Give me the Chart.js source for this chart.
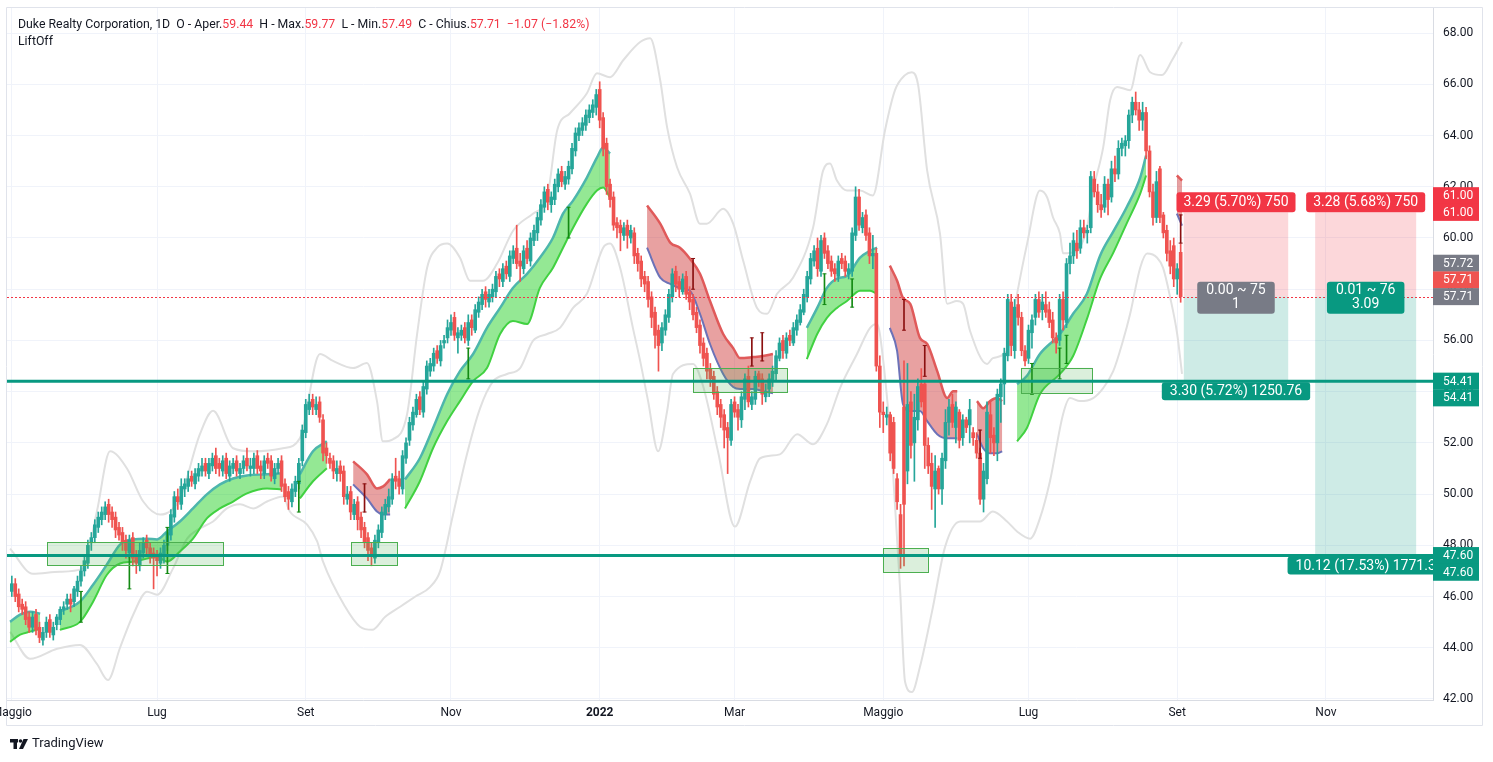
<!DOCTYPE html>
<html>
<head>
<meta charset="utf-8">
<title>Duke Realty Corporation, 1D</title>
<script src="https://cdn.jsdelivr.net/npm/chart.js@4.4.1/dist/chart.umd.min.js"></script>
<style>
  html, body { margin: 0; padding: 0; background: #ffffff; }
  #wrap { width: 1493px; height: 762px; position: relative; }
</style>
</head>
<body>
<div id="wrap"><canvas id="chart" width="1493" height="762"></canvas></div>
<script>
// daily bars, index 0 = 3 May 2021
const opens = [
  46.2,46.5,46.1,45.7,45.6,45.2,44.8,45.3,44.8,44.3, 44.6,45.1,44.5,44.9,45.1,45.5,45.7,45.9,45.8,46.2,
  46.6,47.0,47.3,48.1,48.3,48.7,49.0,49.2,49.6,49.3, 49.1,48.7,48.5,48.2,47.7,48.3,47.6,47.2,47.7,48.2,
  47.9,47.7,47.6,47.3,47.6,48.0,48.4,49.1,49.9,49.6, 50.2,50.3,50.7,50.4,50.7,50.9,51.2,50.8,51.1,51.5,
  51.2,50.9,51.4,50.7,51.0,51.3,50.8,51.0,51.4,51.0, 51.0,51.5,51.1,50.8,51.4,51.3,50.6,51.0,51.3,50.4,
  50.1,49.7,50.1,50.4,51.3,52.4,53.3,53.7,53.3,53.6, 52.9,51.8,51.4,51.3,50.8,51.1,50.9,49.8,50.1,49.2,
  49.7,49.1,48.7,48.3,47.9,47.5,48.1,48.5,49.2,49.5, 49.8,50.7,50.6,50.2,51.4,52.1,52.7,53.1,53.8,53.2,
  54.1,54.8,55.0,55.6,55.2,55.9,56.1,56.4,56.9,56.1, 56.2,56.5,56.0,56.8,56.4,57.1,57.4,57.9,57.5,57.7,
  57.9,58.6,58.3,58.9,58.5,59.2,59.6,59.1,58.8,59.6, 59.1,59.9,60.2,60.7,61.2,61.9,61.3,61.5,62.0,62.6,
  62.1,62.3,62.7,63.4,64.0,64.2,64.4,64.7,64.9,65.1, 65.8,64.7,63.7,62.1,61.6,60.6,60.5,60.1,60.5,60.0,
  60.2,59.4,59.1,58.5,58.3,57.7,57.1,56.4,55.9,56.4, 56.9,57.7,58.7,58.3,57.9,58.5,57.9,57.6,57.1,56.6,
  55.9,55.5,54.9,54.6,54.0,53.5,53.1,52.6,52.1,53.6, 53.3,52.9,53.7,54.6,53.5,53.7,54.7,54.5,53.8,54.1,
  54.4,54.7,55.3,56.0,55.5,56.2,55.9,56.4,56.7,57.1, 57.7,58.4,59.1,59.6,58.7,60.0,59.5,59.1,58.8,58.5,
  59.2,59.1,58.6,58.7,60.1,61.6,60.4,60.9,60.2,59.3, 59.4,55.0,53.2,53.0,53.1,52.8,50.6,49.2,53.4,50.9,
  53.6,52.0,52.9,54.3,54.3,51.9,51.2,50.2,51.0,50.2, 51.3,52.8,53.5,52.6,53.2,52.2,52.9,52.7,52.4,52.1,
  51.6,49.8,50.6,53.1,52.3,52.0,53.8,54.3,55.4,57.5, 55.6,57.4,56.9,55.6,55.3,56.3,56.9,57.6,57.2,57.4,
  57.2,56.8,56.1,56.0,57.6,56.7,59.0,59.3,59.8,59.6, 60.4,60.2,60.4,62.3,61.8,61.3,61.2,62.1,61.6,62.7,
  62.5,63.5,63.6,63.8,64.8,65.3,65.0,64.6,64.9,63.4, 61.8,60.8,62.7,60.9,60.3,59.5,59.7,58.4,59.44
];
const highs = [
  46.8,46.7,46.3,45.9,45.8,45.4,45.4,45.5,45.0,44.8, 45.2,45.3,45.0,45.3,45.6,45.8,46.1,46.1,46.4,46.8,
  47.2,47.6,48.2,48.5,49.0,49.3,49.5,49.7,49.8,49.5, 49.3,48.9,48.7,48.4,48.4,48.5,47.8,48.1,48.3,48.4,
  48.1,47.9,47.8,47.9,48.2,48.7,49.4,50.1,50.2,50.6, 50.6,50.9,50.9,51.0,51.2,51.4,51.4,51.4,51.6,51.8,
  51.4,51.5,51.6,51.3,51.4,51.5,51.2,51.5,51.8,51.4, 51.6,51.7,51.3,51.5,51.6,51.5,51.2,51.4,51.5,50.6,
  50.3,50.4,50.7,51.4,52.7,53.7,53.9,53.9,53.8,53.8, 53.1,52.0,51.6,51.5,51.3,51.3,51.1,50.3,50.3,49.8,
  49.9,49.3,48.9,48.5,48.1,48.4,48.8,49.5,49.8,50.2, 50.8,51.4,50.9,51.7,52.2,53.0,53.4,53.9,54.0,54.4,
  55.2,55.3,55.7,55.8,56.0,56.2,56.8,57.0,57.1,56.5, 56.6,56.7,57.0,57.0,57.4,57.7,58.0,58.1,58.0,58.2,
  58.7,58.8,59.0,59.1,59.5,59.7,60.5,59.4,59.7,59.9, 60.2,60.5,61.0,61.5,62.0,62.1,61.8,62.3,62.7,62.8,
  62.6,63.0,63.7,64.3,64.5,64.7,65.0,65.2,65.4,65.8, 66.1,64.9,63.9,62.3,61.8,60.8,60.7,60.6,60.7,60.5,
  60.4,59.6,59.3,58.7,58.5,57.9,57.3,56.6,56.7,57.2, 58.0,58.8,58.9,58.5,58.6,58.7,58.1,57.8,57.3,56.8,
  56.1,55.7,55.1,54.8,54.2,53.7,53.3,52.8,53.7,53.8, 53.5,54.0,54.7,55.0,54.0,54.8,54.8,54.7,54.3,54.7,
  55.0,55.6,56.1,56.2,56.3,56.4,56.7,57.0,57.4,58.0, 58.7,59.4,59.7,60.0,60.1,60.2,59.7,59.3,59.0,59.3,
  59.4,59.3,59.0,60.4,62.0,61.9,61.0,61.1,60.4,60.1, 59.6,55.4,53.6,53.4,53.2,53.0,50.8,49.6,55.2,55.1,
  54.0,53.9,54.5,54.9,54.4,52.2,51.6,51.5,51.1,51.6, 53.3,53.7,53.9,53.6,53.3,53.1,53.0,53.7,52.6,52.4,
  51.8,51.2,53.6,53.6,52.6,54.1,54.5,55.7,57.8,57.8, 57.6,57.8,57.1,55.8,56.6,57.0,57.8,57.9,57.8,57.9,
  57.5,57.1,56.3,57.8,57.9,59.2,59.8,60.2,60.3,60.7, 60.7,60.5,62.6,62.6,62.1,61.7,62.4,62.3,63.0,63.2,
  63.8,63.9,64.0,65.0,65.5,65.7,65.3,65.3,65.1,63.6, 62.1,62.6,62.8,61.0,60.5,59.9,60.0,59.0,59.77
];
const lows = [
  46.0,45.8,45.4,45.3,44.9,44.6,44.6,44.5,44.2,44.1, 44.4,44.4,44.3,44.7,44.9,45.3,45.5,45.4,45.6,46.0,
  46.4,46.8,47.1,47.8,48.1,48.5,48.8,49.0,48.9,48.7, 48.3,48.2,47.8,47.5,47.5,47.2,46.9,47.0,47.5,47.6,
  47.3,46.3,46.8,47.1,47.3,47.8,48.2,48.9,49.4,49.4, 49.9,50.1,50.3,50.2,50.5,50.7,50.7,50.6,50.9,50.8,
  50.7,50.7,50.6,50.5,50.8,50.7,50.6,50.8,50.9,50.7, 50.8,50.8,50.6,50.6,51.0,50.5,50.4,50.8,50.1,49.7,
  49.4,49.5,49.9,50.2,51.1,52.2,53.1,53.1,53.1,52.8, 51.3,51.2,51.0,50.6,50.5,50.5,49.6,49.6,49.0,49.0,
  48.6,48.3,47.9,47.4,47.2,47.3,47.9,48.3,49.0,49.3, 49.6,50.2,50.0,50.0,51.2,51.9,52.5,53.0,53.1,53.0,
  53.9,54.6,54.8,55.1,55.0,55.7,55.9,56.2,56.0,55.5, 56.0,55.9,55.8,56.2,56.3,56.9,57.2,57.3,57.3,57.5,
  57.7,58.1,58.1,58.4,58.3,59.0,58.8,58.3,58.6,59.0, 58.9,59.7,59.9,60.5,61.0,61.1,61.0,61.3,61.8,62.0,
  61.9,62.1,62.5,63.2,63.8,64.0,64.2,64.5,64.7,64.8, 64.3,63.2,61.7,61.2,60.3,60.0,59.5,59.9,59.6,59.8,
  59.0,58.7,58.1,57.9,57.3,56.5,55.7,54.8,55.6,56.2, 56.7,57.5,57.9,57.7,57.8,57.6,57.2,56.8,56.3,55.5,
  55.0,54.5,54.2,53.7,53.1,52.6,51.8,50.8,51.9,53.0, 52.5,52.6,53.3,53.4,53.3,53.5,54.2,53.5,53.6,53.8,
  54.2,54.4,55.2,55.3,55.3,55.8,55.8,56.2,56.6,57.0, 57.5,58.2,58.9,58.5,58.5,59.2,58.8,58.5,58.3,58.3,
  58.8,58.5,58.4,58.5,59.9,60.3,60.2,59.9,59.0,58.8, 54.8,52.6,52.4,52.7,51.3,50.8,49.4,47.1,47.2,50.4,
  51.4,50.5,52.5,53.4,51.0,50.8,49.4,48.7,50.0,49.6, 51.0,52.3,52.6,52.0,51.8,51.9,52.4,52.0,51.9,51.4,
  49.6,49.3,50.4,51.6,51.5,51.3,52.8,53.5,55.2,55.4, 55.3,56.6,55.4,55.0,55.1,55.7,56.6,56.9,56.8,56.9,
  56.5,55.9,55.5,55.8,56.4,56.5,58.6,59.0,59.2,59.4, 60.0,59.8,60.2,61.6,61.0,60.8,61.0,60.9,61.4,62.2,
  62.3,63.2,63.2,63.5,64.5,64.8,64.2,64.2,63.1,61.6, 60.5,60.6,60.6,60.0,59.1,58.6,58.1,57.8,57.49
];
const closes = [
  46.5,46.0,45.6,45.5,45.1,44.8,45.2,44.7,44.4,44.6, 45.0,44.6,44.8,45.2,45.5,45.6,45.9,45.7,46.3,46.6,
  47.0,47.4,48.0,48.3,48.8,49.1,49.3,49.5,49.2,49.0, 48.6,48.4,48.1,47.8,48.2,47.5,47.3,47.8,48.1,47.9,
  47.6,47.5,47.4,47.7,48.0,48.5,49.2,49.9,49.7,50.3, 50.4,50.6,50.5,50.8,51.0,51.1,50.9,51.2,51.4,51.0,
  51.0,51.3,50.8,51.1,51.2,50.9,51.0,51.3,51.1,51.1, 51.4,51.0,50.9,51.3,51.2,50.7,51.0,51.2,50.3,49.9,
  49.8,50.2,50.5,51.2,52.5,53.5,53.6,53.4,53.5,53.0, 51.6,51.5,51.2,50.9,51.0,50.8,49.9,50.0,49.3,49.6,
  49.0,48.6,48.1,47.8,47.6,48.2,48.6,49.3,49.6,49.9, 50.6,50.5,50.3,51.5,52.0,52.8,53.2,53.7,53.3,54.2,
  55.0,55.1,55.5,55.3,55.8,56.0,56.5,56.7,56.2,56.3, 56.4,56.1,56.7,56.5,57.2,57.5,57.8,57.6,57.8,58.0,
  58.5,58.4,58.8,58.6,59.3,59.5,59.0,58.9,59.5,59.2, 60.0,60.3,60.8,61.3,61.8,61.4,61.6,62.1,62.5,62.2,
  62.4,62.8,63.5,64.1,64.3,64.5,64.8,65.0,65.2,65.6, 64.6,63.5,62.0,61.5,60.5,60.4,60.2,60.4,60.1,60.3,
  59.3,59.0,58.4,58.2,57.6,56.9,56.2,55.8,56.5,57.0, 57.8,58.6,58.2,58.0,58.4,57.8,57.5,57.0,56.5,55.8,
  55.3,54.8,54.5,53.9,53.4,53.0,52.5,52.2,53.5,53.2, 53.0,53.8,54.5,53.6,53.8,54.6,54.4,53.9,54.0,54.5,
  54.8,55.4,55.9,55.6,56.1,56.0,56.5,56.8,57.2,57.8, 58.5,59.2,59.5,58.8,59.9,59.4,59.0,58.7,58.6,59.1,
  59.0,58.7,58.8,60.2,61.6,60.5,60.8,60.1,59.3,59.4, 55.0,53.2,53.1,53.1,51.6,51.0,49.7,47.6,49.6,53.5,
  51.9,53.0,54.2,53.6,51.9,51.1,50.3,50.9,50.2,51.4, 52.8,53.4,52.8,53.4,52.1,52.9,52.6,53.3,52.2,51.6,
  49.8,50.9,53.2,52.2,52.0,53.9,54.3,55.5,57.6,55.8, 57.3,56.9,55.6,55.2,56.4,56.8,57.6,57.1,57.5,57.1,
  56.7,56.1,55.9,57.6,56.8,59.0,59.3,59.9,59.5,60.4, 60.2,60.3,62.4,61.8,61.3,61.1,62.1,61.5,62.7,62.5,
  63.5,63.7,63.8,64.8,65.3,65.0,64.6,64.9,63.4,61.8, 60.8,62.2,60.8,60.2,59.4,58.9,58.4,58.8,57.71
];

// time axis (bar index) and price axis
const monthTicks  = [0, 42, 85, 127, 170, 209, 252, 294, 337, 380];
const monthLabels = ['Maggio', 'Lug', 'Set', 'Nov', '2022', 'Mar', 'Maggio', 'Lug', 'Set', 'Nov'];
const priceTicks  = [42, 44, 46, 48, 50, 52, 54, 56, 58, 60, 62, 64, 66, 68];

// bollinger-style envelope [barIndex, price]
const bandUpper = [
  [-0.5,47.87],[6.1,46.89],[13.9,46.97],[20.6,47.09],[24.6,49.32],[28.4,51.67],[33.3,51.00],[38.0,49.71],
  [42.9,49.20],[48.6,49.83],[54.4,52.34],[58.2,53.25],[64.0,51.79],[69.8,51.67],[78.4,51.79],[83.3,52.18],
  [89.1,55.47],[92.9,55.20],[98.7,54.92],[102.7,55.12],[105.6,53.63],[107.3,52.06],[110.2,52.14],[114.3,53.12],
  [117.2,56.25],[120.1,58.84],[123.0,59.62],[125.9,59.78],[129.6,59.23],[132.5,58.33],[136.3,58.33],[140.3,58.99],
  [145.0,60.29],[150.7,60.95],[154.8,61.58],[157.7,64.20],[161.4,64.87],[166.3,65.65],[169.2,66.43],[173.0,66.28],
  [176.8,66.94],[181.7,67.65],[184.6,67.80],[187.5,66.16],[189.5,64.32],[192.4,62.75],[196.1,61.73],[199.0,60.56],
  [201.0,60.56],[205.7,61.14],[208.6,60.56],[211.5,59.11],[215.5,57.27],[218.4,57.04],[221.3,57.82],[225.9,58.45],
  [231.7,60.40],[234.6,62.63],[236.6,62.91],[238.6,62.24],[241.5,61.85],[245.3,61.85],[249.0,61.66],[252.5,64.20],
  [255.4,65.77],[258.3,66.36],[260.3,66.47],[262.1,65.96],[264.7,62.63],[268.4,60.17],[270.5,57.43],[273.3,57.54],
  [275.1,57.43],[277.1,56.37],[282.0,55.08],[283.7,55.31],[287.8,55.59],[290.7,57.82],[293.6,59.78],[297.3,61.85],
  [299.4,61.58],[301.1,60.80],[303.1,60.17],[304.0,59.40],[308.0,59.50],[310.9,60.40],[312.7,61.85],[315.6,63.54],
  [317.6,65.38],[319.6,65.90],[323.4,65.77],[326.3,67.14],[329.2,66.47],[332.6,66.36],[335.5,66.94],[338.4,67.65]
];
const bandLower = [
  [-0.5,44.62],[5.3,43.57],[13.1,43.96],[19.7,44.11],[24.6,43.37],[27.8,42.74],[31.3,44.00],[35.1,45.29],
  [39.1,46.19],[42.0,46.07],[46.6,47.09],[50.7,48.26],[54.4,48.66],[58.2,48.93],[62.2,49.44],[66.0,49.60],
  [69.8,49.44],[73.8,49.71],[78.4,49.91],[80.4,49.32],[85.4,48.81],[88.3,48.15],[90.0,47.36],[96.4,45.60],
  [100.7,44.82],[104.2,44.70],[108.0,45.21],[112.3,45.60],[116.6,45.99],[121.0,46.38],[123.8,46.97],[127.6,49.20],
  [131.6,51.55],[135.4,53.35],[139.2,54.41],[143.2,54.69],[147.0,54.92],[150.7,55.98],[154.8,56.25],[158.5,56.49],
  [162.3,57.27],[166.3,57.82],[171.0,59.62],[173.0,59.78],[175.9,58.84],[179.6,56.49],[181.7,55.20],[184.0,53.63],
  [186.9,51.67],[189.5,53.24],[191.2,54.69],[197.0,55.08],[199.9,54.22],[204.2,51.67],[209.1,48.73],[213.5,50.50],
  [216.4,51.40],[222.1,51.55],[227.1,52.34],[231.7,51.95],[235.7,52.73],[239.5,54.14],[244.4,55.47],[248.2,56.49],
  [250.2,56.64],[252.0,55.20],[254.8,50.89],[256.9,46.19],[258.3,42.67],[260.3,42.27],[262.6,43.25],[266.1,45.41],
  [269.9,47.95],[274.2,48.93],[280.0,48.93],[283.7,49.32],[287.8,48.93],[290.7,48.54],[294.5,48.26],[297.3,49.05],
  [300.2,50.50],[304.0,53.12],[306.0,53.75],[308.9,53.63],[312.7,53.75],[315.6,54.14],[318.5,54.80],[321.3,55.98],
  [323.4,57.04],[326.3,58.84],[328.3,59.39],[331.2,59.23],[332.9,58.84],[335.0,57.66],[337.0,56.25],[338.4,54.69]
];

// LiftOff ribbons [barIndex, upperEdge, lowerEdge]
const greenRibbons = [
  [[-0.5,45.01,44.23],[2.4,45.29,44.51],[5.3,45.41,44.63],[8.2,45.33,44.74]],
  [[13.9,45.41,44.70],[19.7,45.80,45.01],[23.5,46.46,45.80],[27.5,47.25,46.85],[31.3,48.03,47.29],[35.0,48.23,47.36],
   [39.1,48.26,47.48],[42.0,48.23,47.56],[44.9,48.54,47.36],[48.6,48.93,47.76],[52.4,49.44,48.26],[56.4,49.99,49.05],
   [60.2,50.38,49.44],[64.0,50.61,49.71],[68.0,50.73,50.03],[73.8,50.77,50.22],[78.1,50.81,50.18]],
  [[83.3,50.77,49.83],[87.1,51.67,50.50],[91.1,52.06,51.01]],
  [[113.7,50.57,49.44],[118.0,51.40,50.50],[121.8,52.57,51.79],[125.9,53.90,52.85],[129.6,54.80,53.63],[133.4,55.47,54.41],
   [137.4,56.49,54.92],[141.2,57.27,56.25],[144.9,58.05,56.76],[149.0,58.60,56.64],[152.7,59.23,58.05],[156.5,60.01,58.84],
   [159.4,60.95,59.62],[162.3,61.46,60.40],[166.3,62.36,61.34],[169.2,63.14,61.85],[171.0,63.53,61.97],[173.0,63.30,61.58]],
  [[229.9,56.49,55.27],[232.9,57.27,56.25],[235.7,58.05,56.88],[238.6,58.41,57.27],[241.5,58.52,57.54],[245.3,59.23,57.94],
   [248.2,59.50,57.94],[250.2,59.62,57.82]],
  [[290.7,54.29,52.06],[293.5,54.61,52.57],[297.3,55.47,53.90],[303.1,56.25,54.69],[306.9,57.04,55.39],[310.9,57.82,56.84],
   [314.7,59.31,58.41],[318.5,60.25,59.42],[322.5,61.23,60.60],[326.3,62.36,61.73],[328.0,63.22,62.44]]
];
const redRibbons = [
  [[98.7,51.28,50.38],[102.7,50.77,49.83],[105.6,50.22,49.32],[107.4,50.30,49.20],[109.4,50.58,49.20]],
  [[183.7,61.27,59.62],[187.5,60.56,58.45],[190.4,59.82,58.21],[193.2,59.62,58.05],[196.1,59.19,57.94],[199.0,58.60,57.04],
   [201.9,57.54,55.86],[205.7,56.25,54.69],[208.6,55.70,54.18],[210.6,55.31,54.10],[214.4,55.35,54.10],[217.2,55.39,54.02],
   [220.1,55.47,53.94]],
  [[253.9,58.92,56.49],[256.0,58.33,55.59],[257.7,57.66,53.51],[259.8,57.43,53.24],[262.6,56.10,53.24],[264.7,55.86,52.85],
   [267.6,54.80,52.34],[270.5,53.75,52.18],[272.2,54.02,52.18],[273.4,54.02,52.18]],
  [[279.1,53.63,52.34],[280.9,53.35,51.79],[282.9,53.63,51.59],[284.9,53.75,51.59],[286.4,53.63,51.67]],
  [[336.9,62.44,60.95],[338.4,62.24,60.48]]
];

// signal markers [barIndex, low, high]
const greenSignals = [[20,45.0,46.2],[34,46.3,47.6],[45,46.9,48.7],[83,49.3,50.5],[132,54.5,55.7],[161,60.0,61.2],
                      [235,57.4,58.6],[243,57.3,58.4],[295,53.9,55.1],[303,54.5,55.7],[305,55.1,56.2]];
const redSignals   = [[102,49.3,50.4],[197,58.0,59.2],[214,55.0,56.1],[217,55.2,56.3],[258,56.4,57.6],[264,54.6,55.8],
                      [280,51.4,52.5],[338,59.8,60.9]];

// zones [startIndex, endIndex, top, bottom]
const zones = [[10.2,61.1,48.11,47.21],[98.1,111.4,48.11,47.21],[197.0,224.2,54.92,53.98],
               [251.9,264.9,47.88,46.94],[291.8,312.4,54.93,53.95]];

const levels = [54.41, 47.60];

// short position tools
const posStart  = [338.9, 376.9];
const posEnd    = [369.1, 406.1];
const posEntry  = 57.71;
const posStop   = 61.00;
const posTarget = [54.41, 47.60];
const riskText   = ['3.29 (5.70%) 750', '3.28 (5.68%) 750'];
const midText    = [['0.00 ~ 75', '1'], ['0.01 ~ 76', '3.09']];
const midColor   = ['#787b86', '#089981'];
const rewardText = ['3.30 (5.72%) 1250.76', '10.12 (17.53%) 1771.3'];

// price scale tags [price, text, color, slot]
const axisTags = [
  [61.00, '61.00', '#f23645', -1], [61.00, '61.00', '#f23645', 0],
  [57.71, '57.72', '#787b86', -2], [57.71, '57.71', '#ef5350', -1], [57.71, '57.71', '#787b86', 0],
  [54.41, '54.41', '#089981', 0], [54.41, '54.41', '#089981', 1],
  [47.60, '47.60', '#089981', 0], [47.60, '47.60', '#089981', 1]
];

const titleParts = [
  ['Duke Realty Corporation, 1D  O - Aper.', '#131722'], ['59.44', '#f23645'],
  ['  H - Max.', '#131722'], ['59.77', '#f23645'],
  ['  L - Min.', '#131722'], ['57.49', '#f23645'],
  ['  C - Chius.', '#131722'], ['57.71  \u22121.07 (\u22121.82%)', '#f23645']
];

const FONT = 'Roboto, "Liberation Sans", Arial, sans-serif';
const UP = '#26a69a', DOWN = '#ef5350';
const candleColors = closes.map((c, i) => c >= opens[i] ? UP : DOWN);

const datasets = [];

// signals
[[greenSignals, '#138a13'], [redSignals, '#8b1010']].forEach(([sig, col]) => {
  datasets.push({ type: 'bar', data: sig.map(s => ({ x: s[0], y: [s[1], s[2]] })),
    backgroundColor: col, barThickness: 1, grouped: false, order: 0 });
  datasets.push({ type: 'line', data: sig.flatMap(s => [{ x: s[0], y: s[1] }, { x: s[0], y: s[2] }]),
    showLine: false, pointStyle: 'line', pointRadius: 2, borderColor: col, borderWidth: 1, order: 0 });
});

// candles
datasets.push({ type: 'bar', data: closes.map((c, i) => ({ x: i, y: [lows[i], highs[i]] })),
  backgroundColor: candleColors, barThickness: 1, grouped: false, order: 1 });
datasets.push({ type: 'bar', data: closes.map((c, i) => ({ x: i, y: [Math.min(opens[i], c), Math.max(opens[i], c)] })),
  backgroundColor: candleColors, barThickness: 3, minBarLength: 1, grouped: false, order: 1 });

// ribbons
const addRibbon = (seg, upCol, loCol, fillCol) => {
  datasets.push({ type: 'line', data: seg.map(p => ({ x: p[0], y: p[1] })), borderColor: upCol, borderWidth: 2.5,
    pointRadius: 0, fill: false, cubicInterpolationMode: 'monotone', order: 2 });
  datasets.push({ type: 'line', data: seg.map(p => ({ x: p[0], y: p[2] })), borderColor: loCol, borderWidth: 2,
    pointRadius: 0, fill: '-1', backgroundColor: fillCol, cubicInterpolationMode: 'monotone', order: 2 });
};
greenRibbons.forEach(seg => addRibbon(seg, '#4db6ac', '#41d141', 'rgba(0,200,0,0.42)'));
redRibbons.forEach(seg => addRibbon(seg, '#e05a5a', '#6c72b8', 'rgba(200,30,30,0.42)'));

// envelope
[bandUpper, bandLower].forEach(b => {
  datasets.push({ type: 'line', data: b.map(p => ({ x: p[0], y: p[1] })), borderColor: '#e0e0e0', borderWidth: 2,
    pointRadius: 0, fill: false, cubicInterpolationMode: 'monotone', order: 3 });
});

function roundBox(ctx, x, y, w, h, r, color) {
  ctx.fillStyle = color;
  ctx.beginPath();
  if (ctx.roundRect) ctx.roundRect(x, y, w, h, r); else ctx.rect(x, y, w, h);
  ctx.fill();
}

const overlay = {
  id: 'overlay',
  afterDatasetsDraw(chart) {
    const { ctx, chartArea: a, scales: { x, y } } = chart;
    ctx.save();
    ctx.beginPath();
    ctx.rect(a.left, a.top, a.right - a.left, a.bottom - a.top);
    ctx.clip();

    // zones
    zones.forEach(z => {
      const x0 = x.getPixelForValue(z[0]), x1 = x.getPixelForValue(z[1]);
      const y0 = y.getPixelForValue(z[2]), y1 = y.getPixelForValue(z[3]);
      ctx.fillStyle = 'rgba(76,175,80,0.2)';
      ctx.fillRect(x0, y0, x1 - x0, y1 - y0);
      ctx.strokeStyle = '#4caf50';
      ctx.lineWidth = 1;
      ctx.strokeRect(Math.round(x0) + 0.5, Math.round(y0) + 0.5, Math.round(x1 - x0), Math.round(y1 - y0));
    });

    // position areas
    const yE = y.getPixelForValue(posEntry), yS = y.getPixelForValue(posStop);
    posStart.forEach((s, k) => {
      const x0 = x.getPixelForValue(s), x1 = x.getPixelForValue(posEnd[k]);
      const yT = y.getPixelForValue(posTarget[k]);
      ctx.fillStyle = 'rgba(242,54,69,0.2)';
      ctx.fillRect(x0, yS, x1 - x0, yE - yS);
      ctx.fillStyle = 'rgba(8,153,129,0.2)';
      ctx.fillRect(x0, yE, x1 - x0, yT - yE);
    });

    // last price
    ctx.strokeStyle = '#f23645';
    ctx.lineWidth = 1;
    ctx.setLineDash([2, 2]);
    ctx.beginPath();
    ctx.moveTo(a.left, Math.round(yE) + 0.5);
    ctx.lineTo(a.right, Math.round(yE) + 0.5);
    ctx.stroke();
    ctx.setLineDash([]);

    // horizontal levels
    levels.forEach(v => {
      const py = y.getPixelForValue(v);
      ctx.strokeStyle = '#089981';
      ctx.lineWidth = 3;
      ctx.beginPath();
      ctx.moveTo(a.left, py);
      ctx.lineTo(a.right, py);
      ctx.stroke();
    });

    // position labels
    ctx.font = '14px ' + FONT;
    ctx.textAlign = 'center';
    ctx.textBaseline = 'middle';
    posStart.forEach((s, k) => {
      const cx = (x.getPixelForValue(s) + x.getPixelForValue(posEnd[k])) / 2;
      const yT = y.getPixelForValue(posTarget[k]);
      let w = ctx.measureText(riskText[k]).width + 14;
      roundBox(ctx, cx - w / 2, yS - 20, w, 20, 3, '#f23645');
      ctx.fillStyle = '#ffffff';
      ctx.fillText(riskText[k], cx, yS - 9.5);

      w = Math.max(ctx.measureText(midText[k][0]).width, ctx.measureText(midText[k][1]).width) + 18;
      roundBox(ctx, cx - w / 2, yE - 15, w, 32, 3, midColor[k]);
      ctx.fillStyle = '#ffffff';
      ctx.fillText(midText[k][0], cx, yE - 6);
      ctx.fillText(midText[k][1], cx, yE + 8);

      w = ctx.measureText(rewardText[k]).width + 16;
      roundBox(ctx, cx - w / 2, yT + 1, w, 18, 3, '#089981');
      ctx.fillStyle = '#ffffff';
      ctx.fillText(rewardText[k], cx, yT + 10.5);
    });
    ctx.restore();
  },
  afterDraw(chart) {
    const { ctx, chartArea: a, scales: { x, y } } = chart;
    ctx.save();

    // frame
    ctx.strokeStyle = '#e0e3eb';
    ctx.lineWidth = 1;
    ctx.beginPath();
    ctx.moveTo(a.left - 0.5, a.top - 0.5); ctx.lineTo(1482.5, a.top - 0.5);
    ctx.moveTo(a.left - 0.5, a.top - 0.5); ctx.lineTo(a.left - 0.5, 725.5);
    ctx.moveTo(a.left - 0.5, 725.5); ctx.lineTo(1482.5, 725.5);
    ctx.moveTo(1482.5, a.top - 0.5); ctx.lineTo(1482.5, 725.5);
    ctx.stroke();

    // price labels
    ctx.font = '12px ' + FONT;
    ctx.textAlign = 'left';
    ctx.textBaseline = 'middle';
    ctx.fillStyle = '#131722';
    priceTicks.forEach(v => ctx.fillText(v.toFixed(2), a.right + 10, y.getPixelForValue(v)));

    // price scale tags
    axisTags.forEach(t => {
      const cy = y.getPixelForValue(t[0]) + t[3] * 16.7;
      ctx.fillStyle = t[2];
      ctx.fillRect(a.right, cy - 8.5, 46, 17);
      ctx.fillStyle = '#ffffff';
      ctx.fillText(t[1], a.right + 10, cy + 0.5);
    });

    // time labels
    ctx.textAlign = 'center';
    monthTicks.forEach((v, k) => {
      ctx.font = (monthLabels[k] === '2022' ? 'bold ' : '') + '12px ' + FONT;
      ctx.fillStyle = '#131722';
      ctx.fillText(monthLabels[k], x.getPixelForValue(v), 713);
    });

    // legend title
    ctx.textAlign = 'left';
    ctx.font = '12.3px ' + FONT;
    let tx = 18;
    titleParts.forEach(p => {
      ctx.fillStyle = p[1];
      ctx.fillText(p[0], tx, 25);
      tx += ctx.measureText(p[0]).width;
    });
    ctx.fillStyle = '#131722';
    ctx.fillText('LiftOff', 18, 42);

    // TradingView mark
    ctx.fillStyle = '#131722';
    ctx.fillRect(10, 739, 8, 3.5);
    ctx.fillRect(13.5, 739, 3.5, 10);
    ctx.beginPath(); ctx.arc(20.5, 741, 1.8, 0, Math.PI * 2); ctx.fill();
    ctx.beginPath();
    ctx.moveTo(23.5, 739); ctx.lineTo(28, 739); ctx.lineTo(23, 749); ctx.lineTo(19, 749);
    ctx.closePath(); ctx.fill();
    ctx.font = '13px ' + FONT;
    ctx.fillText('TradingView', 32, 744);
    ctx.restore();
  }
};

new Chart(document.getElementById('chart'), {
  type: 'bar',
  data: { datasets: datasets },
  options: {
    responsive: false,
    animation: false,
    devicePixelRatio: 1,
    layout: { padding: { left: 7, top: 8, right: 0, bottom: 37 } },
    plugins: { legend: { display: false }, tooltip: { enabled: false } },
    scales: {
      x: {
        type: 'linear', min: -1.39, max: 410.97, offset: false,
        afterBuildTicks: s => { s.ticks = monthTicks.map(v => ({ value: v })); },
        afterFit: s => { s.height = 25; },
        ticks: { display: false },
        grid: { color: '#f0f3fa', offset: false, drawTicks: false },
        border: { color: '#d9dce3' }
      },
      y: {
        type: 'linear', position: 'right', min: 41.96, max: 68.98,
        afterBuildTicks: s => { s.ticks = priceTicks.map(v => ({ value: v })); },
        afterFit: s => { s.width = 60; },
        ticks: { display: false },
        grid: { color: '#f0f3fa', drawTicks: false },
        border: { color: '#d9dce3' }
      }
    }
  },
  plugins: [overlay]
});
</script>
</body>
</html>
